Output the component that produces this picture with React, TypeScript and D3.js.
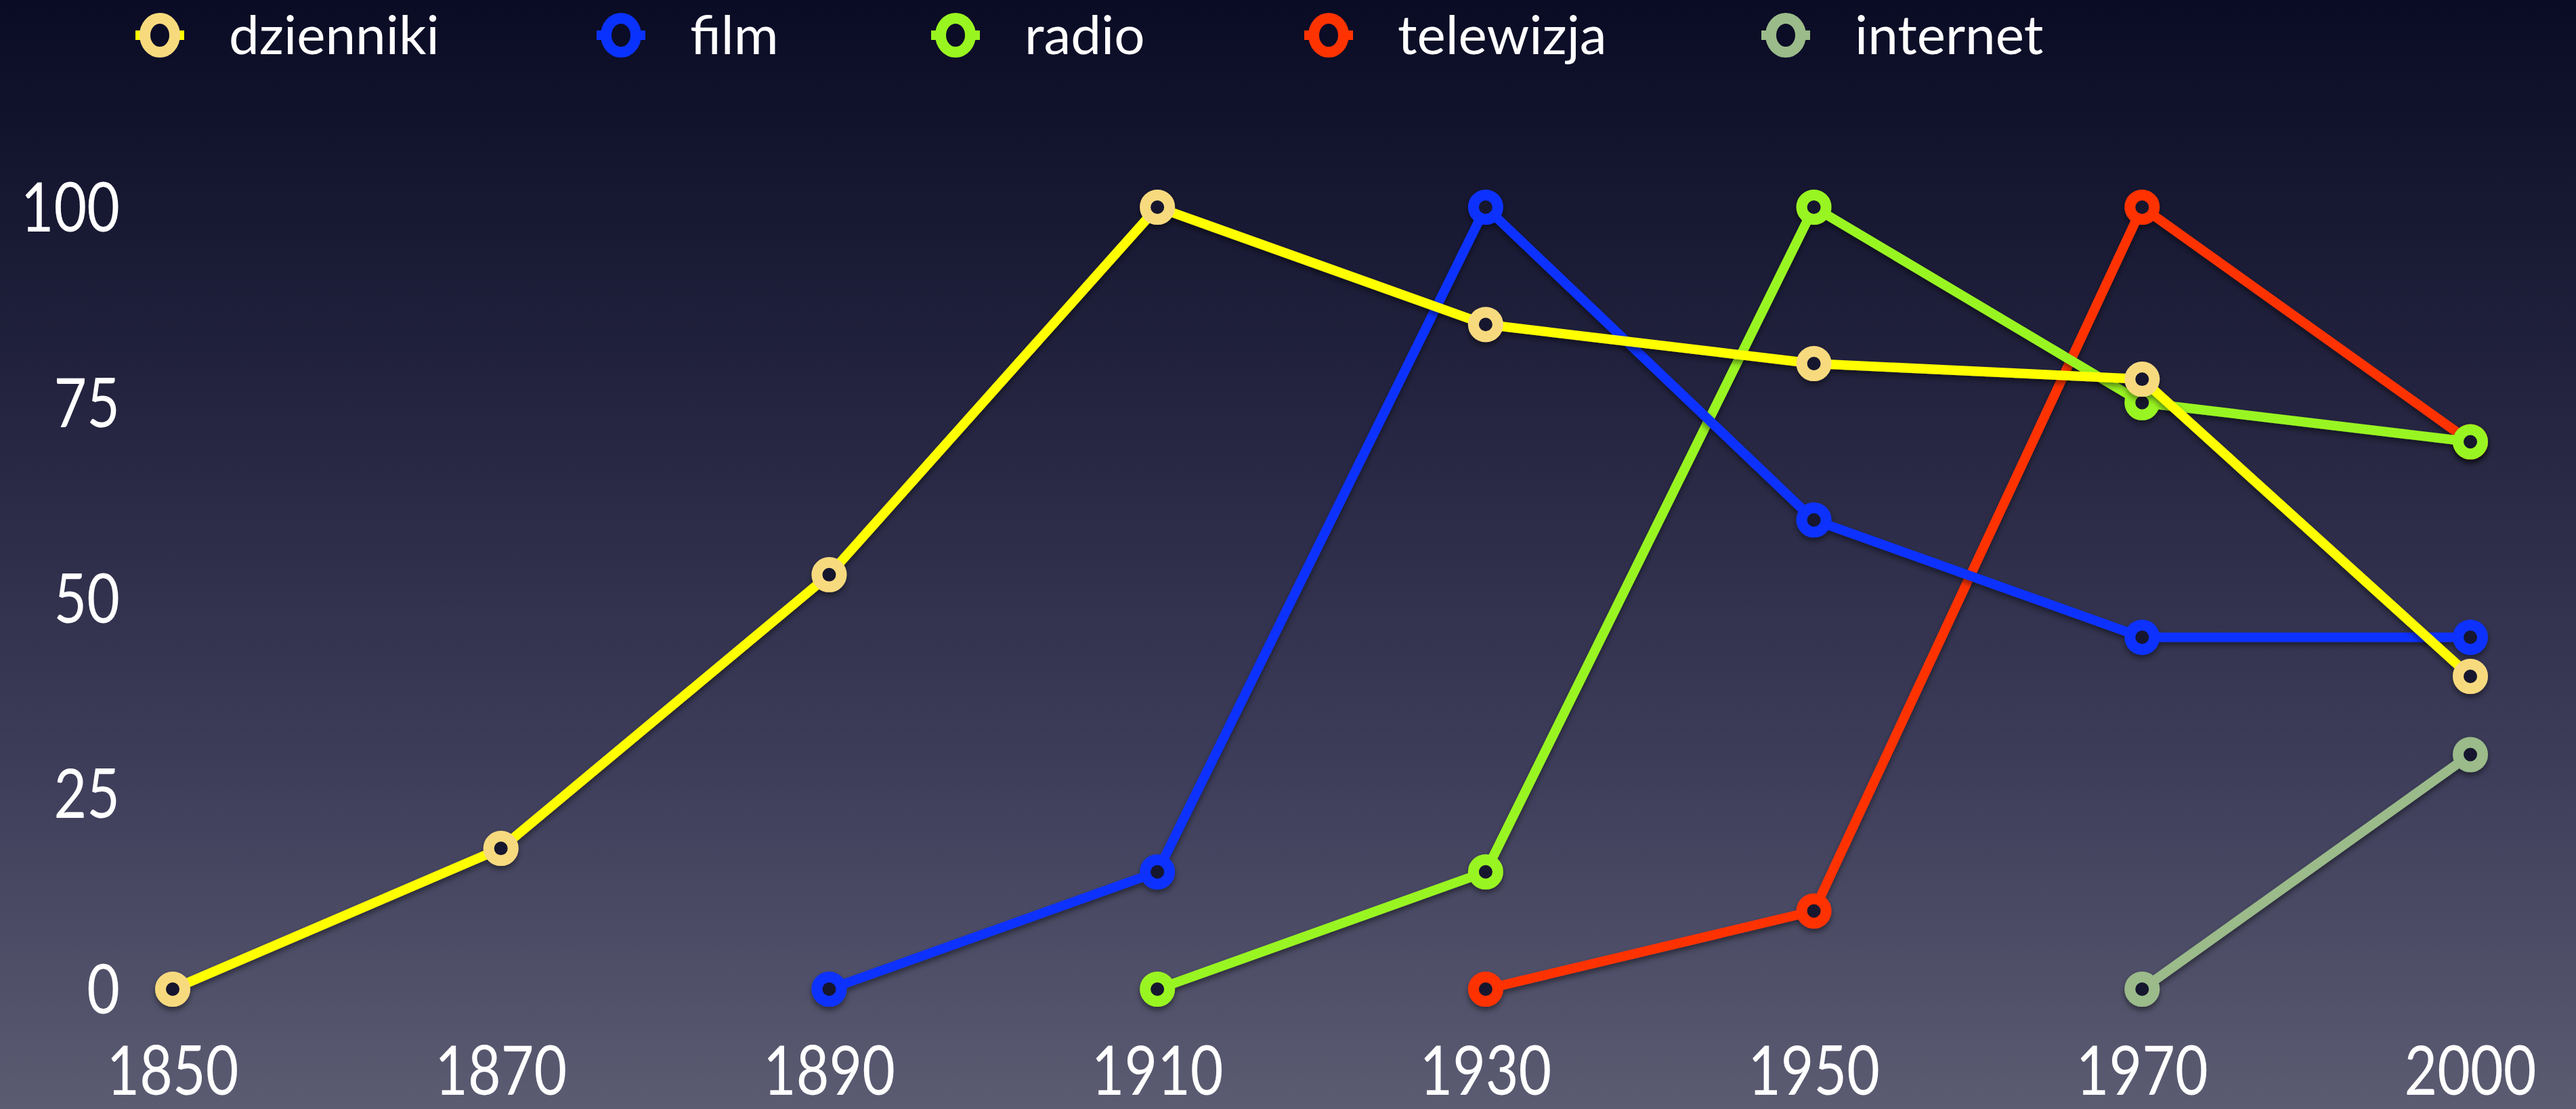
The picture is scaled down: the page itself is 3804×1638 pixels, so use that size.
import React from "react";
import * as d3 from "d3";

const years = ["1850", "1870", "1890", "1910", "1930", "1950", "1970", "2000"];
const yTicks = [0, 25, 50, 75, 100];

const seriesNames = ["dzienniki", "film", "radio", "telewizja", "internet"];
const lineColors = ["#FFFF00", "#0A32FF", "#99F520", "#FF3300", "#9BBB8A"];
const markerColors = ["#F8DA7E", "#0A32FF", "#99F520", "#FF3300", "#9BBB8A"];

const dzienniki = [0, 18, 53, 100, 85, 80, 78, 40];
const film = [null, null, 0, 15, 100, 60, 45, 45];
const radio = [null, null, null, 0, 15, 100, 75, 70];
const telewizja = [null, null, null, null, 0, 10, 100, 70];
const internet = [null, null, null, null, null, null, 0, 30];

const seriesValues = [dzienniki, film, radio, telewizja, internet];

const W = 3804;
const H = 1638;
const FONT = "Lato, 'Open Sans', sans-serif";

export default function App() {
  const x = d3.scalePoint<string>().domain(years).range([255, 3648]);
  const y = d3.scaleLinear().domain([0, 100]).range([1461, 306]);

  const line = d3
    .line<{ year: string; v: number }>()
    .x((d) => x(d.year) as number)
    .y((d) => y(d.v));

  const series = seriesNames.map((name, i) => ({
    name,
    lineColor: lineColors[i],
    markerColor: markerColors[i],
    points: seriesValues[i]
      .map((v, j) => ({ year: years[j], v: v as number }))
      .filter((p) => p.v !== null && p.v !== undefined),
  }));

  const legendX = [236, 917, 1411, 1962, 2637];
  const legendY = 52;

  return (
    <div style={{ position: "fixed", left: 0, top: 0, width: W, height: H }}>
      <svg width={W} height={H} style={{ display: "block" }}>
        <defs>
          <linearGradient id="bg" x1="0" y1="0" x2="0" y2="1">
            <stop offset="0" stopColor="#0a0b24" />
            <stop offset="0.35" stopColor="#23233f" />
            <stop offset="0.7" stopColor="#3e3e5b" />
            <stop offset="1" stopColor="#5b5b72" />
          </linearGradient>
          <filter id="shadow" x="-10%" y="-10%" width="120%" height="130%">
            <feDropShadow dx="0" dy="5" stdDeviation="4" floodColor="#000" floodOpacity="0.45" />
          </filter>
        </defs>
        <rect x={0} y={0} width={W} height={H} fill="url(#bg)" />

        {/* legend */}
        {series.map((s, i) => (
          <g key={s.name} transform={`translate(${legendX[i]},${legendY})`}>
            <line x1={-36} x2={36} y1={0} y2={0} stroke={s.lineColor} strokeWidth={14} />
            <ellipse cx={0} cy={0} rx={22} ry={25} fill="#0b0c26" stroke={s.markerColor} strokeWidth={16} />
            <text x={102} y={0} dy="0.35em" fill="#ffffff" fontFamily={FONT} fontSize={80}>
              {s.name}
            </text>
          </g>
        ))}

        {/* y axis labels */}
        {yTicks.map((t) => (
          <g key={t} transform={`translate(177,${y(t)}) scale(0.84,1)`}>
            <text
              x={0}
              y={0}
              dy="0.36em"
              textAnchor="end"
              fill="#ffffff"
              fontFamily={FONT}
              fontSize={100}
            >
              {t}
            </text>
          </g>
        ))}

        {/* x axis labels */}
        {years.map((yr) => (
          <g key={yr} transform={`translate(${x(yr) as number},1617) scale(0.84,1)`}>
            <text
              x={0}
              y={0}
              textAnchor="middle"
              fill="#ffffff"
              fontFamily={FONT}
              fontSize={100}
            >
              {yr}
            </text>
          </g>
        ))}

        {/* series, drawn in reverse so dzienniki is on top */}
        {[...series].reverse().map((s) => (
          <g key={s.name} filter="url(#shadow)">
            <path
              d={line(s.points) || ""}
              fill="none"
              stroke={s.lineColor}
              strokeWidth={14}
              strokeLinejoin="round"
            />
            {s.points.map((p) => (
              <circle
                key={p.year}
                cx={x(p.year) as number}
                cy={y(p.v)}
                r={18}
                fill="#14142e"
                stroke={s.markerColor}
                strokeWidth={16}
              />
            ))}
          </g>
        ))}
      </svg>
    </div>
  );
}
